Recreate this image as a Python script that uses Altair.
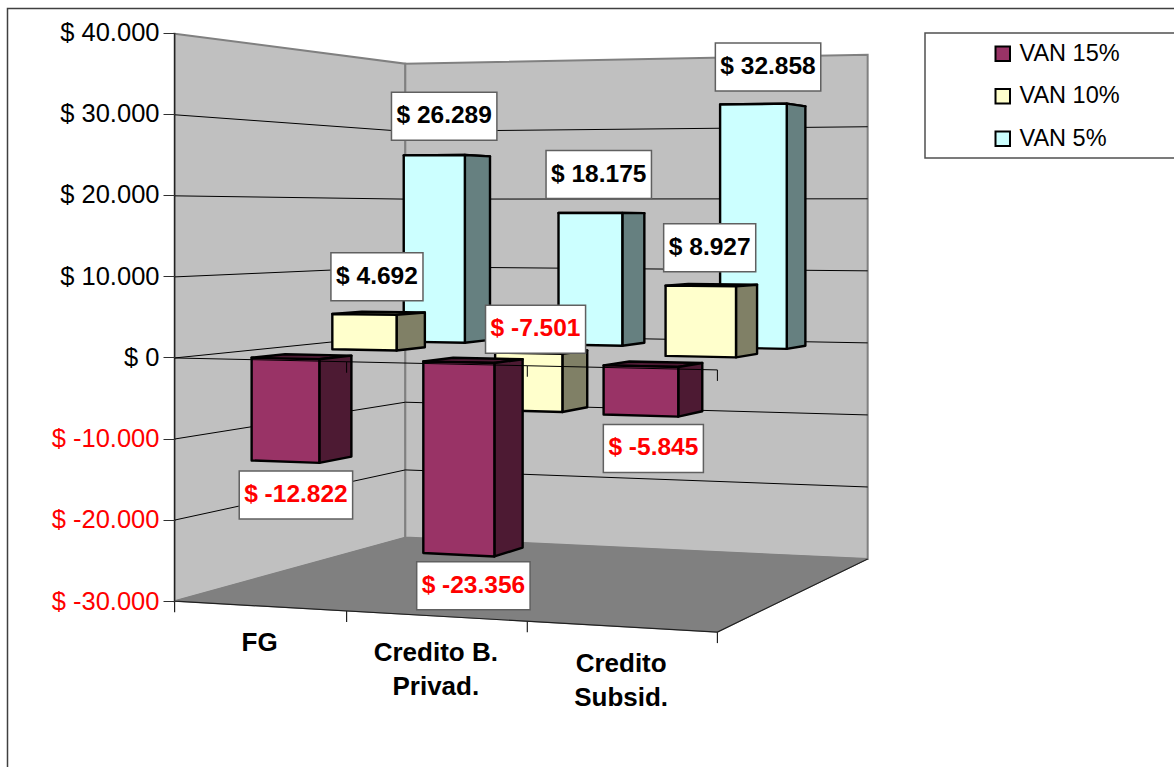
import altair as alt
import numpy as np

# --- chart data -------------------------------------------------------------
categories = ["FG", "Credito B.\nPrivad.", "Credito\nSubsid."]
series = ["VAN 15%", "VAN 10%", "VAN 5%"]
van_15 = [-12822, -23356, -5845]
van_10 = [4692, -7501, 8927]
van_5 = [26289, 18175, 32858]
value_ticks = [40000, 30000, 20000, 10000, 0, -10000, -20000, -30000]

# --- styling ----------------------------------------------------------------
front_colors = ["#993366", "#FFFFCC", "#CCFFFF"]
side_colors = ["#4D1A33", "#808066", "#668080"]
FONT = "Liberation Sans"
W, H = 1174, 767
V_MIN, V_MAX = -30000, 40000

# --- perspective camera: world (category, series depth, value) -> page ------
# Each row: c, s, v, page x, page y for a corner of the plot box.
box_corners = [
    (0, 0, V_MAX, 175, 32.5),
    (0, 0, V_MIN, 175, 601),
    (0, 3, V_MAX, 405, 64.5),
    (0, 3, V_MIN, 405, 538),
    (3, 3, V_MAX, 868, 54.5),
    (3, 3, V_MIN, 868, 558),
    (3, 0, V_MIN, 717, 633),
    (3, 0, V_MAX, 717, 21),
]


def solve_camera(rows):
    a, b = [], []
    for c, s, v, px, py in rows:
        w = (c, s, v / 10000.0)
        a.append([*w, 1, 0, 0, 0, 0, *(-px * q for q in w)])
        a.append([0, 0, 0, 0, *w, 1, *(-py * q for q in w)])
        b += [px, py]
    m = np.linalg.lstsq(np.array(a, float), np.array(b, float), rcond=None)[0]
    return np.append(m, 1.0).reshape(3, 4)


CAM = solve_camera(box_corners)


def project(c, s, v):
    x, y, z = CAM @ np.array([c, s, v / 10000.0, 1.0])
    return [float(x / z), float(y / z)]


# --- GeoJSON helpers, drawn through an identity projection -------------------
def polygon(points, **props):
    ring = [list(p) for p in points] + [list(points[0])]
    return {"type": "Feature", "geometry": {"type": "Polygon", "coordinates": [ring]}, **props}


def polyline(points, **props):
    return {"type": "Feature", "geometry": {"type": "LineString", "coordinates": [list(p) for p in points]}, **props}


def rect(x0, y0, x1, y1, **props):
    return polygon([(x0, y0), (x1, y0), (x1, y1), (x0, y1)], **props)


def shapes(features, **mark):
    return alt.Chart(alt.Data(values=features)).mark_geoshape(**mark).project(
        type="identity", scale=1, translate=[0, 0]
    )


# --- walls, floor and gridlines ---------------------------------------------
walls = [
    polygon([project(0, 0, V_MAX), project(0, 3, V_MAX), project(0, 3, V_MIN), project(0, 0, V_MIN)]),
    polygon([project(0, 3, V_MAX), project(3, 3, V_MAX), project(3, 3, V_MIN), project(0, 3, V_MIN)]),
]
floor = [polygon([project(0, 0, V_MIN), project(0, 3, V_MIN), project(3, 3, V_MIN), project(3, 0, V_MIN)])]
grid = [
    polyline([project(0, 0, v), project(0, 3, v), project(3, 3, v)])
    for v in value_ticks
    if V_MIN < v < V_MAX
]
edges = [
    polyline([project(0, 0, V_MAX), project(0, 0, V_MIN), project(3, 0, V_MIN), project(3, 3, V_MIN)]),
]
floor_ticks = [
    polyline([project(i, 0, V_MIN), [project(i, 0, V_MIN)[0], project(i, 0, V_MIN)[1] + 11]])
    for i in range(4)
]

# --- bars: painted from the back series forward, top, then side, then front --
GAP = 0.3
BAR_DROP = 1.5


def bar_point(c, s, v):
    x, y = project(c, s, v)
    return [x, y + BAR_DROP]


columns = [van_15, van_10, van_5]
faces = []
for j in (2, 1, 0):
    for i in (2, 1, 0):
        value = columns[j][i]
        c0, c1, s0, s1 = i + GAP, i + 1 - GAP, j + GAP, j + 1 - GAP
        lo, hi = min(0, value), max(0, value)
        key_side = series[j] + " shade"
        faces.append(polygon([bar_point(c0, s0, hi), bar_point(c1, s0, hi), bar_point(c1, s1, hi), bar_point(c0, s1, hi)], key=key_side))
        faces.append(polygon([bar_point(c1, s0, hi), bar_point(c1, s1, hi), bar_point(c1, s1, lo), bar_point(c1, s0, lo)], key=key_side))
        faces.append(polygon([bar_point(c0, s0, hi), bar_point(c1, s0, hi), bar_point(c1, s0, lo), bar_point(c0, s0, lo)], key=series[j]))

color_domain = series + [s + " shade" for s in series]
color_range = front_colors + side_colors

# --- the value axis plane's zero line with its category ticks -----------------
zero_line = [polyline([project(i, 0, 0) for i in range(4)])]
zero_ticks = [
    polyline([project(i, 0, 0), [project(i, 0, 0)[0], project(i, 0, 0)[1] + 11]])
    for i in (1, 2, 3)
]

# --- value labels -----------------------------------------------------------
BOLD_EM = {"$": 0.556, " ": 0.278, ".": 0.278, "-": 0.333}
LABEL_SIZE = 24.5
# hand placement of each label relative to its default spot, by (series, category)
label_nudge = {
    (0, 0): (-6, 3),
    (0, 1): (0, 2),
    (0, 2): (0, 2),
    (1, 0): (-2, 2),
    (1, 1): (-6, -113),
    (1, 2): (-2, 1),
    (2, 0): (-3, -1),
    (2, 1): (-3, 0),
    (2, 2): (5, 0),
}


def money(v):
    return "$ " + f"{v:,}".replace(",", ".")


label_boxes, label_rows = [], []
for j in range(3):
    for i in range(3):
        value = columns[j][i]
        text = money(value)
        x, y = project(i + 0.5, j + 0.5, value)
        y += -37 if value > 0 else 35
        dx, dy = label_nudge.get((j, i), (0, 0))
        x, y = x + dx, y + dy
        width = sum(BOLD_EM.get(ch, 0.556) for ch in text) * 24 + 12
        label_boxes.append(rect(x - width / 2, y - 24, x + width / 2, y + 24))
        label_rows.append({"lon": x, "lat": y, "text": text, "tone": "red" if value < 0 else "black"})

category_rows = []
for i, name in enumerate(categories):
    x, y = project(i + 0.5, 0, V_MIN)
    category_rows.append({"lon": x, "lat": y + 37, "text": name})

# --- layers -----------------------------------------------------------------
frame = shapes([rect(7.5, 8.5, W + 20, H + 20)], fill="white", stroke="#404040", strokeWidth=1.5)
legend_box = shapes([rect(925, 33, W + 20, 158)], fill="white", stroke="#505050", strokeWidth=1.5)
wall_layer = shapes(walls, fill="#C0C0C0", stroke="#808080", strokeWidth=2)
floor_layer = shapes(floor, fill="#808080", stroke="#808080", strokeWidth=1)
grid_layer = shapes(grid, filled=False, stroke="black", strokeWidth=1)
edge_layer = shapes(edges + floor_ticks, filled=False, stroke="#202020", strokeWidth=1.2)

bar_layer = shapes(faces, stroke="black", strokeWidth=2.4, strokeJoin="round").encode(
    color=alt.Color(
        "key:N",
        scale=alt.Scale(domain=color_domain, range=color_range),
        sort=None,
        legend=alt.Legend(
            title=None,
            values=series,
            orient="none",
            legendX=991,
            legendY=42,
            padding=0,
            symbolType="square",
            symbolSize=210,
            symbolStrokeColor="black",
            symbolStrokeWidth=2,
            symbolOpacity=1,
            labelFont=FONT,
            labelFontSize=23.5,
            labelColor="black",
            labelOffset=5,
            rowPadding=17.5,
        ),
    )
)
zero_layer = shapes(zero_line + zero_ticks, filled=False, stroke="black", strokeWidth=1)
box_layer = shapes(label_boxes, fill="white", stroke="#606060", strokeWidth=1.5)

label_layer = (
    alt.Chart(alt.Data(values=label_rows))
    .mark_text(font=FONT, fontSize=LABEL_SIZE, fontWeight="bold", align="center", baseline="middle")
    .encode(
        longitude="lon:Q",
        latitude="lat:Q",
        text="text:N",
        color=alt.value("black"),
        fill=alt.Fill("tone:N", scale=None),
    )
    .project(type="identity", scale=1, translate=[0, 0])
)
category_layer = (
    alt.Chart(alt.Data(values=category_rows))
    .mark_text(font=FONT, fontSize=26, fontWeight="bold", align="center", baseline="middle", lineBreak="\n", lineHeight=34)
    .encode(longitude="lon:Q", latitude="lat:Q", text="text:N")
    .project(type="identity", scale=1, translate=[0, 0])
)

# Value axis: a real Vega-Lite axis pinned to the front-left edge of the box.
axis_layer = (
    alt.Chart(alt.Data(values=[{"v": v} for v in value_ticks]))
    .mark_rule(opacity=0)
    .encode(
        y=alt.Y(
            "v:Q",
            scale=alt.Scale(domain=[V_MIN, V_MAX], range=[601, 32.5], nice=False),
            axis=alt.Axis(
                title=None,
                values=value_ticks,
                offset=-175,
                grid=False,
                domain=False,
                zindex=1,
                tickColor="#303030",
                tickSize=12,
                tickWidth=1,
                labelPadding=4,
                labelFont=FONT,
                labelFontSize=25.5,
                labelColor=alt.condition("datum.value < 0", alt.value("red"), alt.value("black")),
                labelExpr="'$ ' + (datum.value < 0 ? '-' : '') + replace(format(abs(datum.value), ',d'), ',', '.')",
            ),
        )
    )
)

chart = (
    alt.layer(
        frame, legend_box, wall_layer, floor_layer, grid_layer, edge_layer,
        bar_layer, zero_layer, box_layer, label_layer, category_layer, axis_layer,
    )
    .resolve_scale(color="independent")
    .properties(
        width=W,
        height=H,
        padding=0,
        background="white",
        autosize=alt.AutoSizeParams(type="none"),
    )
    .configure_view(stroke=None)
)

chart.save("out.html", embed_options={"renderer": "svg", "actions": False})
